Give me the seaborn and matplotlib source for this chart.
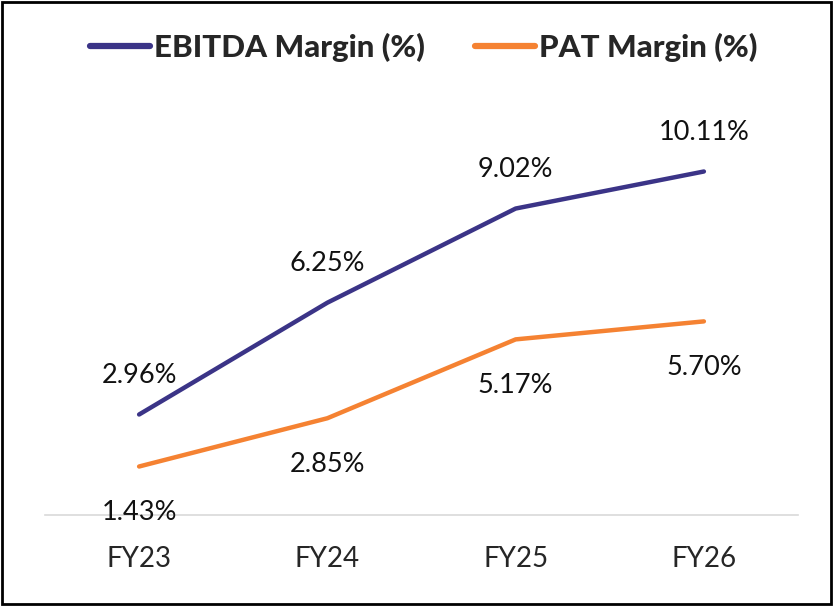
import pandas as pd
import matplotlib.pyplot as plt
import seaborn as sns
from matplotlib.patches import Rectangle

years = ["FY23", "FY24", "FY25", "FY26"]
ebitda_margin = [2.96, 6.25, 9.02, 10.11]
pat_margin = [1.43, 2.85, 5.17, 5.70]
series_names = ["EBITDA Margin (%)", "PAT Margin (%)"]
colors = ["#3B3487", "#F58232"]

df = pd.DataFrame({
    "Year": years * 2,
    "Margin": ebitda_margin + pat_margin,
    "Series": [series_names[0]] * 4 + [series_names[1]] * 4,
})
df["x"] = df["Year"].map({y: i for i, y in enumerate(years)})

sns.set_style("white")
plt.rcParams["font.family"] = ["Lato", "DejaVu Sans"]

fig = plt.figure(figsize=(8.33, 6.06), dpi=100)
ax = fig.add_axes([0.054, 0.150, 0.904, 0.673])

sns.lineplot(data=df, x="x", y="Margin", hue="Series", palette=colors,
             linewidth=3.2, ax=ax, legend=False)

# data labels: EBITDA above, PAT below
for i, v in enumerate(ebitda_margin):
    ax.annotate(f"{v:.2f}%", (i, v), xytext=(0, 28), textcoords="offset points",
                ha="center", va="center", fontsize=19.5, color="#111111")
for i, v in enumerate(pat_margin):
    ax.annotate(f"{v:.2f}%", (i, v), xytext=(0, -33), textcoords="offset points",
                ha="center", va="center", fontsize=19.5, color="#111111")

ax.set_xlim(-0.5, 3.5)
ax.set_ylim(0, 12)
ax.set_xticks(range(len(years)))
ax.set_xticklabels(years, fontsize=20)
ax.tick_params(axis="x", length=0, pad=22)
ax.set_yticks([])
ax.set_xlabel("")
ax.set_ylabel("")
for s in ["top", "left", "right"]:
    ax.spines[s].set_visible(False)
ax.spines["bottom"].set_color("#D9D9D9")
ax.spines["bottom"].set_linewidth(1.2)

handles = [plt.Line2D([], [], color=c, linewidth=4.5, solid_capstyle="round") for c in colors]
fig.legend(handles, series_names, loc="center", bbox_to_anchor=(0.509, 0.922),
           ncol=2, frameon=False, handlelength=1.9, handletextpad=0.15,
           columnspacing=1.6, prop={"weight": "black", "size": 22.5})

fig.patches.append(Rectangle((0.003, 0.004), 0.994, 0.992, transform=fig.transFigure,
                             fill=False, edgecolor="black", linewidth=2))

fig.savefig("out.png", dpi=100)
